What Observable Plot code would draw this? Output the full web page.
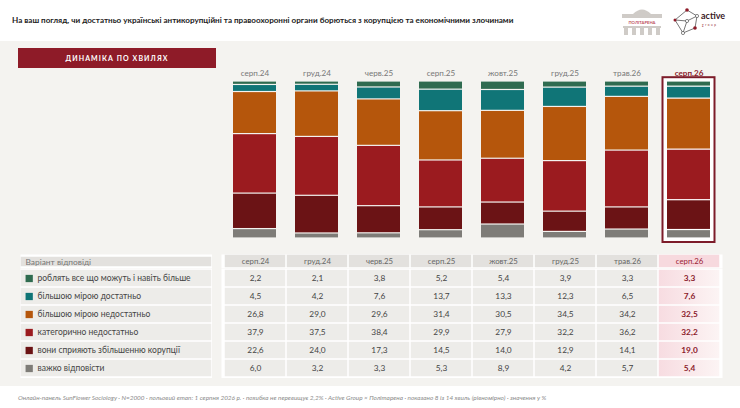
<!DOCTYPE html>
<html><head><meta charset="utf-8">
<script src="https://cdn.jsdelivr.net/npm/d3@7"></script>
<script src="https://cdn.jsdelivr.net/npm/@observablehq/plot@0.6"></script>
<style>
html,body{margin:0;padding:0;background:#fff;}
#page{position:relative;width:740px;height:408px;overflow:hidden;font-family:Lato,"Noto Sans",sans-serif;background:#fff;}
.abs{position:absolute;}
#title{left:12px;top:14px;font-size:8.1px;font-weight:700;color:#222;white-space:nowrap;line-height:12px;}
#panel{left:0;top:41px;width:740px;height:345px;background:#f4f3f0;}
#btn{left:18px;top:48px;width:198px;height:20px;background:#8e1b28;color:#fff;font-size:7px;font-weight:700;letter-spacing:1.1px;display:flex;align-items:center;justify-content:center;}
#foot{left:18px;top:394px;font-size:6.4px;font-style:italic;color:#8a8a8a;white-space:nowrap;line-height:8px;}
.abs svg{display:block;}
</style></head>
<body><div id="page">
<div id="title" class="abs">На ваш погляд, чи достатньо українські антикорупційні та правоохоронні органи борються з корупцією та економічними злочинами</div>
<svg class="abs" style="left:615px;top:4px" width="120" height="34" viewBox="0 0 120 34">
  <g fill="#cfcbc7">
    <path d="M18 10 Q27 1 36 10 Z"/>
    <rect x="7" y="10" width="40" height="4"/>
    <rect x="8" y="22" width="38" height="2"/>
    <rect x="9" y="24" width="4" height="7"/><rect x="17" y="24" width="4" height="7"/><rect x="25" y="24" width="4" height="7"/><rect x="33" y="24" width="4" height="7"/><rect x="41" y="24" width="4" height="7"/>
  </g>
  <text x="27" y="19.5" text-anchor="middle" font-size="4.2" font-weight="700" fill="#c0525d" font-family="Lato">ПОЛІТАРЕНА</text>
  <g stroke="#555" stroke-width="0.8" fill="none">
    <path d="M60 16 L72 6 L82 12 L80 24 L68 29 L60 16 Z M68 29 L72 17 L82 12 M72 17 L60 16"/>
  </g>
  <g fill="#8e1b28"><circle cx="72" cy="6" r="1.8"/><circle cx="80" cy="24" r="1.8"/><circle cx="60" cy="16" r="1.5"/></g>
  <g fill="#fff" stroke="#555" stroke-width="0.7"><circle cx="82" cy="12" r="1.6"/><circle cx="68" cy="29" r="1.6"/><circle cx="72" cy="17" r="1.6"/></g>
  <text x="86" y="15" font-size="9" font-weight="700" fill="#3b1a1f" font-family="Lato">active</text>
  <text x="87" y="22" font-size="3" letter-spacing="1.6" fill="#8e1b28" font-family="Lato">group</text>
</svg>
<div id="panel" class="abs"></div>
<div id="btn" class="abs">ДИНАМІКА ПО ХВИЛЯХ</div>
<div id="bars" class="abs" style="left:0;top:41px"></div>
<div id="lh" class="abs" style="left:0;top:254px"></div>
<div id="lb" class="abs" style="left:0;top:268px"></div>
<div id="rh" class="abs" style="left:0;top:254px"></div>
<div id="rb" class="abs" style="left:0;top:268px"></div>
<div id="foot" class="abs">Онлайн-панель SunFlower Sociology · N=2000 · польовий етап: 1 серпня 2026 р. · похибка не перевищує 2,2% · Active Group × Політарена · показано 8 із 14 хвиль (рівномірно) · значення у %</div>
</div>
<script>
// ---- data ----
const waves = ["серп.24","груд.24","черв.25","серп.25","жовт.25","груд.25","трав.26","серп.26"];
const highlight = "серп.26";
const categories = [
  "роблять все що можуть і навіть більше",
  "більшою мірою достатньо",
  "більшою мірою недостатньо",
  "категорично недостатньо",
  "вони сприяють збільшенню корупції",
  "важко відповісти"
];
const headerLabel = "Варіант відповіді";
const doEverything   = [2.2, 2.1, 3.8, 5.2, 5.4, 3.9, 3.3, 3.3];
const mostlyEnough   = [4.5, 4.2, 7.6, 13.7, 13.3, 12.3, 6.5, 7.6];
const mostlyNot      = [26.8, 29.0, 29.6, 31.4, 30.5, 34.5, 34.2, 32.5];
const definitelyNot  = [37.9, 37.5, 38.4, 29.9, 27.9, 32.2, 36.2, 32.2];
const fosterCorrupt  = [22.6, 24.0, 17.3, 14.5, 14.0, 12.9, 14.1, 19.0];
const hardToSay      = [6.0, 3.2, 3.3, 5.3, 8.9, 4.2, 5.7, 5.4];
const colors = ["#2f6b50", "#107577", "#b5560c", "#9b1b1f", "#6b1315", "#7e7c78"];

const series = [doEverything, mostlyEnough, mostlyNot, definitelyNot, fosterCorrupt, hardToSay];
const rows = waves.flatMap((w, i) => categories.map((c, j) => ({wave: w, cat: c, value: series[j][i]})));
const fmt = v => v.toFixed(1).replace(".", ",");
const font = "Lato, 'Noto Sans', sans-serif";
const tableX = {domain: waves, paddingInner: 0, paddingOuter: 0, axis: null};

const gradDefs = () => {
  const ns = "http://www.w3.org/2000/svg";
  const defs = document.createElementNS(ns, "defs");
  const g = document.createElementNS(ns, "linearGradient");
  g.setAttribute("id", "pinkGrad");
  g.setAttribute("x1", "0"); g.setAttribute("x2", "1"); g.setAttribute("y1", "0"); g.setAttribute("y2", "0");
  [["0", "#f7dce1"], ["1", "#fcf4f4"]].forEach(([o, c]) => {
    const s = document.createElementNS(ns, "stop");
    s.setAttribute("offset", o); s.setAttribute("stop-color", c); g.appendChild(s);
  });
  defs.appendChild(g);
  return defs;
};

// ---- stacked bars ----
document.getElementById("bars").appendChild(Plot.plot({
  width: 740, height: 209, marginLeft: 222, marginRight: 18, marginTop: 40, marginBottom: 12,
  style: {background: "transparent", fontFamily: font, overflow: "visible"},
  x: {domain: waves, paddingInner: 0.3, paddingOuter: 0.15, axis: null},
  y: {domain: [0, 100], axis: null},
  color: {domain: categories, range: colors},
  marks: [
    Plot.barY([highlight], {x: d => d, y1: 0, y2: 100, fill: "#fff", stroke: "#7d1c2a", strokeWidth: 2, insetLeft: -4.5, insetRight: -4.5, insetTop: -3.8, insetBottom: -4}),
    Plot.barY(rows, Plot.stackY({x: "wave", y: "value", fill: "cat", order: [...categories].reverse(), insetTop: 0.6, insetBottom: 0.6})),
    Plot.text(waves.filter(w => w !== highlight), {x: d => d, text: d => d, frameAnchor: "top", dy: -11, fontSize: 8.1, fill: "#777"}),
    Plot.text([highlight], {x: d => d, text: d => d, frameAnchor: "top", dy: -11, fontSize: 8.1, fontWeight: 700, fill: "#8b1a2b"})
  ]
}));

// ---- left table ----
document.getElementById("lh").appendChild(Plot.plot({
  width: 212, height: 14, marginLeft: 20, marginRight: 0, marginTop: 0, marginBottom: 0,
  style: {background: "transparent", fontFamily: font},
  y: {domain: [headerLabel], axis: null},
  marks: [
    Plot.frame({fill: "#fff", stroke: null}),
    Plot.cell([headerLabel], {y: d => d, fill: "#e3e1de", inset: 0.75}),
    Plot.text([headerLabel], {y: d => d, text: d => d, frameAnchor: "left", dx: 5, textAnchor: "start", fontSize: 8.4, fill: "#777"})
  ]
}));
document.getElementById("lb").appendChild(Plot.plot({
  width: 212, height: 109.5, marginLeft: 20, marginRight: 0, marginTop: 0, marginBottom: 0,
  style: {background: "transparent", fontFamily: font},
  y: {domain: categories, paddingInner: 0, paddingOuter: 0, axis: null},
  color: {domain: categories, range: colors},
  marks: [
    Plot.frame({fill: "#fff", stroke: null}),
    Plot.cell(categories, {y: d => d, fill: "#edece9", inset: 0.75}),
    Plot.dot(categories, {y: d => d, frameAnchor: "left", dx: 8.7, symbol: "square", r: 4.1, fill: d => d}),
    Plot.text(categories, {y: d => d, text: d => d, frameAnchor: "left", dx: 17, textAnchor: "start", fontSize: 8.5, fill: "#444"})
  ]
}));

// ---- right table ----
document.getElementById("rh").appendChild(Plot.plot({
  width: 740, height: 14, marginLeft: 221, marginRight: 18, marginTop: 0, marginBottom: 0,
  style: {background: "transparent", fontFamily: font},
  x: tableX,
  marks: [
    Plot.frame({fill: "#fff", stroke: null}),
    Plot.cell(waves, {x: d => d, fill: d => d === highlight ? "#f7d9de" : "#e3e1de", inset: 0.75}),
    Plot.text(waves, {x: d => d, text: d => d, fontSize: 7.8, fill: d => d === highlight ? "#9b2335" : "#666"})
  ]
}));
document.getElementById("rb").appendChild(Plot.plot({
  width: 740, height: 109.5, marginLeft: 221, marginRight: 18, marginTop: 0, marginBottom: 0,
  style: {background: "transparent", fontFamily: font},
  x: tableX,
  y: {domain: categories, paddingInner: 0, paddingOuter: 0, axis: null},
  marks: [
    gradDefs,
    Plot.frame({fill: "#fff", stroke: null}),
    Plot.cell(rows, {x: "wave", y: "cat", fill: d => d.wave === highlight ? "url(#pinkGrad)" : "#edece9", inset: 0.75}),
    Plot.text(rows.filter(d => d.wave !== highlight), {x: "wave", y: "cat", text: d => fmt(d.value), fontSize: 8.3, fill: "#444"}),
    Plot.text(rows.filter(d => d.wave === highlight), {x: "wave", y: "cat", text: d => fmt(d.value), fontSize: 8.3, fontWeight: 700, fill: "#8b1a2b"})
  ]
}));
</script>
</body></html>
